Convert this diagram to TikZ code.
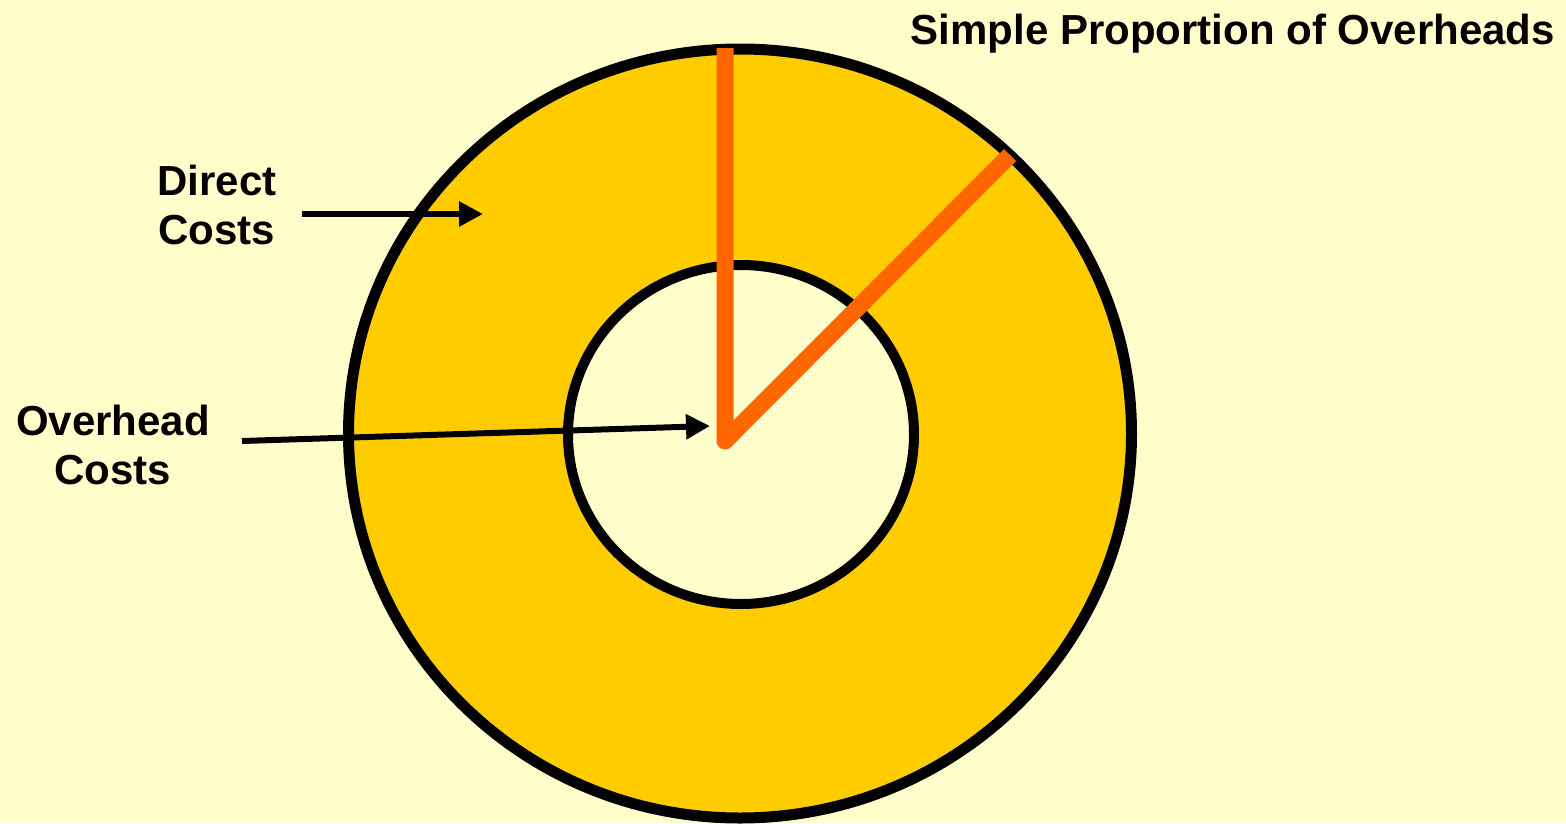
\documentclass[tikz,border=0pt]{standalone}
\usepackage{fontspec}
\setmainfont{Liberation Sans}
\usetikzlibrary{arrows.meta}
\definecolor{bgyellow}{HTML}{FFFFCC}
\definecolor{ringfill}{HTML}{FFCC00}
\definecolor{sliceorange}{HTML}{FF6600}
\begin{document}
\begin{tikzpicture}[x=1pt,y=-1pt,
  lbl/.style={font=\bfseries\fontsize{42}{49}\selectfont, align=center, inner sep=0pt, text=black},
  ringline/.style={draw=black, line width=11pt},
  pointer/.style={draw=black, line width=6pt, -{Triangle[length=24pt,width=24pt]}},
  slice/.style={draw=sliceorange, line width=17pt, line join=round}]
  \fill[bgyellow] (0,0) rectangle (1566,823);
  \useasboundingbox (0,0) rectangle (1566,823);
  % rings
  \path[ringline, fill=ringfill] (740,433.5) ellipse [x radius=391.5, y radius=384.5];
  \path[draw=black, line width=10pt, fill=bgyellow] (741,434.5) ellipse [x radius=173, y radius=169.5];
  % slice lines
  \coordinate (ptop) at (725,48);
  \coordinate (pvert) at (725,441);
  \coordinate (pdiag) at (1010,155);
  \draw[slice] (ptop) -- (pvert) -- (pdiag);
  % labels
  \node[lbl, anchor=north east] (title) at (1555,14) {Simple Proportion of Overheads};
  \node[lbl, anchor=north] (direct) at (217,165) {Direct\\Costs};
  \node[lbl, anchor=north] (overhead) at (113,405) {Overhead\\Costs};
  % pointers
  \coordinate (dstart) at (302,214);
  \coordinate (dend) at (483,214);
  \coordinate (ostart) at (242,441);
  \coordinate (oend) at (710,426);
  \draw[pointer] (dstart) -- (dend);
  \draw[pointer] (ostart) -- (oend);
\end{tikzpicture}
\end{document}
